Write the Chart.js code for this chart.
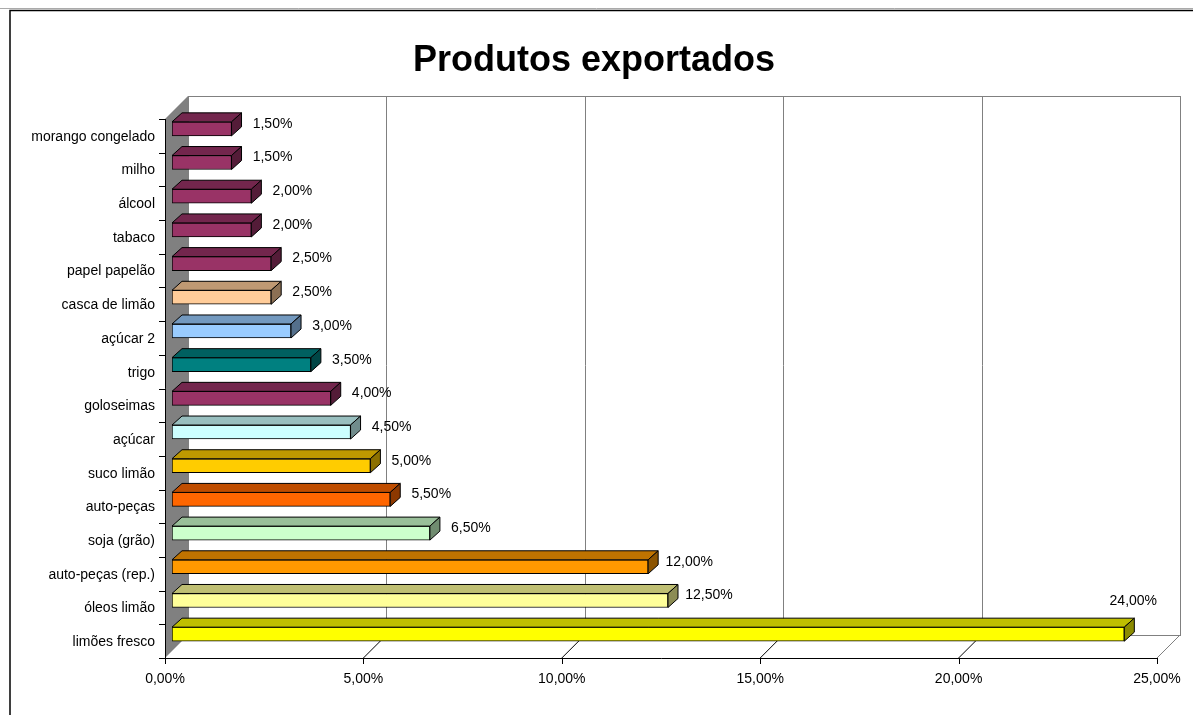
<!DOCTYPE html>
<html>
<head>
<meta charset="utf-8">
<script src="https://cdn.jsdelivr.net/npm/chart.js@4.4.0/dist/chart.umd.min.js"></script>
<style>
    html, body { margin: 0; padding: 0; background: #fff; }
    #wrap { position: relative; width: 1193px; height: 715px; }
</style>
</head>
<body>
<div id="wrap"><canvas id="exportChart" width="1193" height="715"></canvas></div>
<script>
let chartTitle = 'Produtos exportados',
    produtos = ['morango congelado', 'milho', 'álcool', 'tabaco', 'papel papelão', 'casca de limão',
        'açúcar 2', 'trigo', 'goloseimas', 'açúcar', 'suco limão', 'auto-peças', 'soja (grão)',
        'auto-peças (rep.)', 'óleos limão', 'limões fresco'],
    percentuais = [1.5, 1.5, 2, 2, 2.5, 2.5, 3, 3.5, 4, 4.5, 5, 5.5, 6.5, 12, 12.5, 24],
    xTicks = [0, 5, 10, 15, 20, 25],
    coresFrente = ['#993366', '#993366', '#993366', '#993366', '#993366', '#FFCC99',
        '#99CCFF', '#008080', '#993366', '#CCFFFF', '#FFCC00', '#FF6600', '#CCFFCC',
        '#FF9900', '#FFFF99', '#FFFF00'];

// 3D look: bars sit in the middle of the depth, front plane is down-left, back wall up-right
const front = { x: -7, y: 7 },
    back = { x: 16, y: -16 },
    depth = { x: 10, y: 9 },
    fontName = '"Liberation Sans", Arial, sans-serif';

function shade(hex, f) {
    const n = parseInt(hex.slice(1), 16);
    const r = Math.round(((n >> 16) & 255) * f),
        g = Math.round(((n >> 8) & 255) * f),
        b = Math.round((n & 255) * f);
    return `rgb(${r},${g},${b})`;
}

function pct(v) {
    return v.toFixed(2).replace('.', ',') + '%';
}

function poly(ctx, pts, fill, stroke) {
    ctx.beginPath();
    ctx.moveTo(pts[0][0], pts[0][1]);
    for (let i = 1; i < pts.length; i++) ctx.lineTo(pts[i][0], pts[i][1]);
    ctx.closePath();
    if (fill) { ctx.fillStyle = fill; ctx.fill(); }
    if (stroke) { ctx.strokeStyle = stroke; ctx.lineWidth = 1; ctx.stroke(); }
}

const walls3d = {
    id: 'walls3d',
    beforeDatasetsDraw(chart) {
        const ctx = chart.ctx, area = chart.chartArea, xs = chart.scales.x;
        const fl = xs.getPixelForValue(0) + front.x,
            fr = xs.getPixelForValue(25) + front.x,
            fb = area.bottom + front.y,
            ft = area.top + front.y,
            bl = xs.getPixelForValue(0) + back.x,
            br = xs.getPixelForValue(25) + back.x,
            bb = area.bottom + back.y,
            bt = area.top + back.y;

        ctx.save();
        // outer frame
        ctx.strokeStyle = '#aaa';
        ctx.lineWidth = 1;
        ctx.beginPath(); ctx.moveTo(0, 8.5); ctx.lineTo(1193, 8.5); ctx.stroke();
        ctx.strokeStyle = '#000';
        ctx.lineWidth = 1.5;
        ctx.beginPath(); ctx.moveTo(10, 715); ctx.lineTo(10, 10.5); ctx.lineTo(1193, 10.5); ctx.stroke();

        // back wall + gridlines
        ctx.lineWidth = 1;
        ctx.strokeStyle = '#808080';
        ctx.strokeRect(Math.round(bl) + 0.5, Math.round(bt) + 0.5, Math.round(br - bl), Math.round(bb - bt));
        xTicks.forEach(function(t) {
            const x = Math.round(xs.getPixelForValue(t) + back.x) + 0.5;
            ctx.beginPath(); ctx.moveTo(x, bt); ctx.lineTo(x, bb); ctx.stroke();
        });

        // left side wall
        poly(ctx, [[fl, ft], [bl, bt], [bl, bb], [fl, fb]], '#808080', null);
        ctx.strokeStyle = '#808080';
        ctx.beginPath(); ctx.moveTo(fr, fb); ctx.lineTo(br, bb); ctx.stroke();

        // floor lines
        ctx.strokeStyle = '#000';
        xTicks.forEach(function(t) {
            if (t === 0 || t === 25) return;
            const x = xs.getPixelForValue(t);
            ctx.beginPath(); ctx.moveTo(x + front.x, fb); ctx.lineTo(x + back.x, bb); ctx.stroke();
        });

        // axes
        ctx.beginPath();
        ctx.moveTo(Math.round(fl) + 0.5, ft);
        ctx.lineTo(Math.round(fl) + 0.5, Math.round(fb) + 0.5);
        ctx.lineTo(fr, Math.round(fb) + 0.5);
        ctx.stroke();
        xTicks.forEach(function(t) {
            const x = Math.round(xs.getPixelForValue(t) + front.x) + 0.5;
            ctx.beginPath(); ctx.moveTo(x, fb); ctx.lineTo(x, fb + 6); ctx.stroke();
        });
        const step = (area.bottom - area.top) / produtos.length;
        for (let i = 0; i <= produtos.length; i++) {
            const y = Math.round(ft + i * step) + 0.5;
            ctx.beginPath(); ctx.moveTo(fl - 6, y); ctx.lineTo(fl, y); ctx.stroke();
        }
        ctx.restore();
    },
    afterDatasetsDraw(chart) {
        const ctx = chart.ctx, area = chart.chartArea, xs = chart.scales.x, ys = chart.scales.y;
        const meta = chart.getDatasetMeta(0);
        ctx.save();

        // top and side faces of each bar
        meta.data.forEach(function(bar, i) {
            const p = bar.getProps(['x', 'y', 'base', 'height'], true);
            const top = p.y - p.height / 2, bot = p.y + p.height / 2;
            const c = coresFrente[i];
            poly(ctx, [[p.base, top], [p.base + depth.x, top - depth.y], [p.x + depth.x, top - depth.y], [p.x, top]], shade(c, 0.75), '#000');
            poly(ctx, [[p.x, top], [p.x + depth.x, top - depth.y], [p.x + depth.x, bot - depth.y], [p.x, bot]], shade(c, 0.55), '#000');
        });

        // value labels
        ctx.fillStyle = '#000';
        ctx.font = '14px ' + fontName;
        ctx.textAlign = 'center';
        ctx.textBaseline = 'middle';
        meta.data.forEach(function(bar, i) {
            const p = bar.getProps(['x', 'y'], true);
            const txt = pct(percentuais[i]);
            const w = ctx.measureText(txt).width;
            let lx = p.x + 41, ly = p.y - 5;
            if (lx + w / 2 > area.right) { lx = p.x + 9; ly = p.y - 33; }
            ctx.fillText(txt, lx, ly);
        });

        // category labels on the front plane
        ctx.textAlign = 'right';
        produtos.forEach(function(name, i) {
            ctx.fillText(name, xs.getPixelForValue(0) + front.x - 10, ys.getPixelForValue(i) + front.y + 1);
        });

        // value axis labels
        ctx.textAlign = 'center';
        xTicks.forEach(function(t) {
            ctx.fillText(pct(t), xs.getPixelForValue(t) + front.x, area.bottom + front.y + 21);
        });

        // title
        ctx.font = 'bold 36px ' + fontName;
        ctx.fillText(chartTitle, 594, 61);
        ctx.restore();
    }
};

new Chart(document.getElementById('exportChart').getContext('2d'), {
    type: 'bar',
    data: {
        labels: produtos,
        datasets: [{
            data: percentuais,
            backgroundColor: coresFrente,
            borderColor: '#000',
            borderWidth: 1,
            borderSkipped: false,
            barThickness: 14
        }]
    },
    options: {
        indexAxis: 'y',
        responsive: false,
        animation: false,
        layout: { padding: { left: 172, right: 29, top: 112, bottom: 64 } },
        plugins: {
            legend: { display: false },
            tooltip: { enabled: false }
        },
        scales: {
            x: { display: false, min: 0, max: 25 },
            y: { display: false }
        }
    },
    plugins: [walls3d]
});
</script>
</body>
</html>
